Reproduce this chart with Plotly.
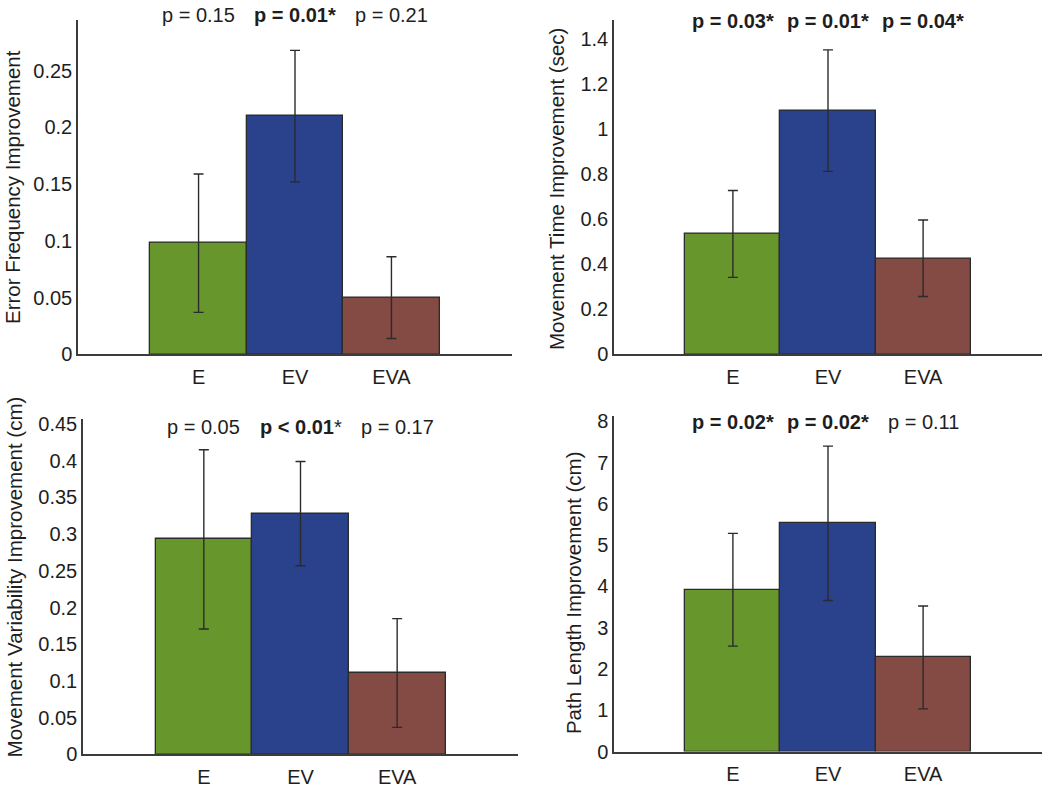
import plotly.graph_objects as go

W, H = 1050, 788

categories = ["E", "EV", "EVA"]
colors = ["#67962C", "#2A418C", "#844A44"]

# Panel data
err_freq = [0.098, 0.210, 0.050]
err_freq_se = [0.061, 0.058, 0.036]
err_freq_p = ["p = 0.15", "<b>p = 0.01*</b>", "p = 0.21"]
err_freq_ticks = [0, 0.05, 0.1, 0.15, 0.2, 0.25]
err_freq_ticktext = ["0", "0.05", "0.1", "0.15", "0.2", "0.25"]

mov_time = [0.535, 1.083, 0.427]
mov_time_se = [0.193, 0.270, 0.170]
mov_time_p = ["<b>p = 0.03*</b>", "<b>p = 0.01*</b>", "<b>p = 0.04*</b>"]
mov_time_ticks = [0, 0.2, 0.4, 0.6, 0.8, 1.0, 1.2, 1.4]
mov_time_ticktext = ["0", "0.2", "0.4", "0.6", "0.8", "1", "1.2", "1.4"]

mov_var = [0.293, 0.328, 0.111]
mov_var_se = [0.122, 0.071, 0.074]
mov_var_p = ["p = 0.05", "<b>p < 0.01</b>*", "p = 0.17"]
mov_var_ticks = [0, 0.05, 0.1, 0.15, 0.2, 0.25, 0.3, 0.35, 0.4, 0.45]
mov_var_ticktext = ["0", "0.05", "0.1", "0.15", "0.2", "0.25", "0.3", "0.35", "0.4", "0.45"]

path_len = [3.92, 5.53, 2.28]
path_len_se = [1.365, 1.87, 1.245]
path_len_p = ["<b>p = 0.02*</b>", "<b>p = 0.02*</b>", "p = 0.11"]
path_len_ticks = [0, 1, 2, 3, 4, 5, 6, 7, 8]
path_len_ticktext = ["0", "1", "2", "3", "4", "5", "6", "7", "8"]

panels = [
    dict(vals=err_freq, se=err_freq_se, p=err_freq_p, tv=err_freq_ticks, tt=err_freq_ticktext,
         title="Error Frequency Improvement", ymax=0.295,
         px=(78, 512), py=(14, 356), ptext_y=9, title_x=12, title_y=185),
    dict(vals=mov_time, se=mov_time_se, p=mov_time_p, tv=mov_time_ticks, tt=mov_time_ticktext,
         title="Movement Time Improvement (sec)", ymax=1.487,
         px=(614, 1042), py=(14, 356), ptext_y=15, title_x=557, title_y=187),
    dict(vals=mov_var, se=mov_var_se, p=mov_var_p, tv=mov_var_ticks, tt=mov_var_ticktext,
         title="Movement Variability Improvement (cm)", ymax=0.457,
         px=(83, 518), py=(422, 765), ptext_y=430, title_x=14, title_y=584),
    dict(vals=path_len, se=path_len_se, p=path_len_p, tv=path_len_ticks, tt=path_len_ticktext,
         title="Path Length Improvement (cm)", ymax=8.13,
         px=(614, 1042), py=(419, 762), ptext_y=425, title_x=573, title_y=600),
]

FONT = "Liberation Sans, Arial, sans-serif"
TXT = "#1e1e1e"
AXC = "#3c3c3c"

fig = go.Figure()
layout = dict(
    width=W, height=H, margin=dict(l=0, r=0, t=0, b=0),
    paper_bgcolor="white", plot_bgcolor="white", showlegend=False,
    font=dict(family=FONT, size=20, color=TXT),
    bargap=0,
)
annotations = []
xpos = list(range(len(categories)))
for i, pn in enumerate(panels, start=1):
    xa = "x" if i == 1 else f"x{i}"
    ya = "y" if i == 1 else f"y{i}"
    fig.add_trace(go.Bar(
        x=xpos, y=pn["vals"], width=1,
        marker=dict(color=colors, line=dict(color="#2b2b2b", width=1.3)),
        error_y=dict(type="data", array=pn["se"], visible=True, color="#2b2b2b",
                     thickness=1.4, width=5),
        xaxis=xa, yaxis=ya, hoverinfo="skip",
    ))
    x0, x1 = pn["px"]
    y0, y1 = pn["py"]
    layout["xaxis" if i == 1 else f"xaxis{i}"] = dict(
        domain=[x0 / W, x1 / W], range=[-1.25, 3.25], anchor=ya,
        tickvals=xpos, ticktext=categories, showgrid=False, zeroline=False,
        showline=True, linecolor=AXC, linewidth=1.5, ticks="outside", ticklen=4,
        tickcolor="rgba(0,0,0,0)", tickfont=dict(size=20, color=TXT),
    )
    layout["yaxis" if i == 1 else f"yaxis{i}"] = dict(
        domain=[1 - y1 / H, 1 - y0 / H], range=[0, pn["ymax"]], anchor=xa,
        tickvals=pn["tv"], ticktext=pn["tt"], showgrid=False, zeroline=False,
        showline=True, linecolor=AXC, linewidth=1.5, ticks="",
        tickfont=dict(size=20, color=TXT),
    )
    for j, t in enumerate(pn["p"]):
        annotations.append(dict(
            x=xpos[j], y=1 - pn["ptext_y"] / H, xref=xa, yref="paper",
            text=t, showarrow=False, xanchor="center", yanchor="middle",
            font=dict(size=20, color=TXT),
        ))
    annotations.append(dict(
        x=pn["title_x"] / W, y=1 - pn["title_y"] / H, xref="paper", yref="paper",
        text=pn["title"], textangle=-90, showarrow=False,
        xanchor="center", yanchor="middle", font=dict(size=20.5, color=TXT),
    ))

layout["annotations"] = annotations
fig.update_layout(**layout)
fig.write_html("out.html", config={"displayModeBar": False},
               post_script="document.body.style.margin='0';document.body.style.padding='0';")
